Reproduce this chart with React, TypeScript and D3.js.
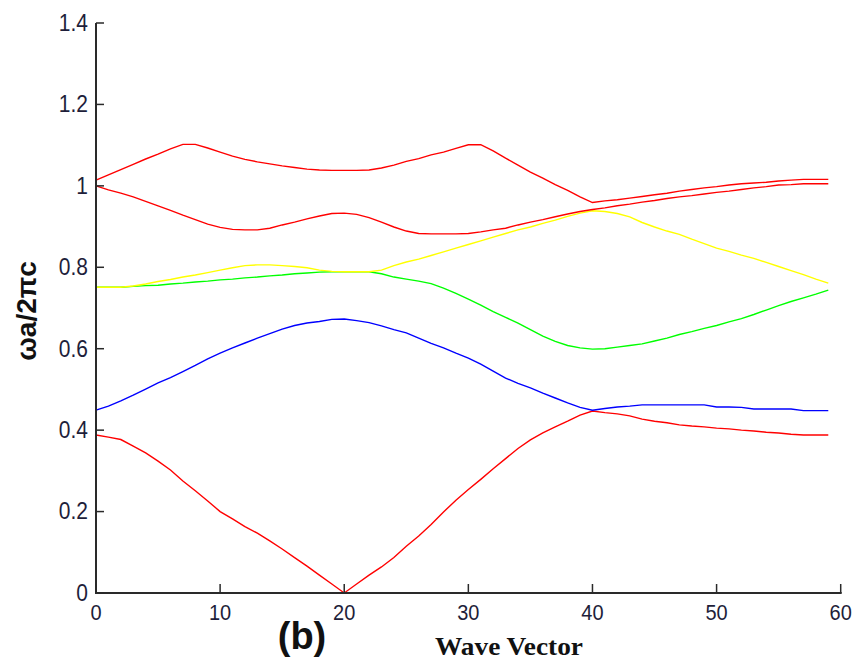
import React from "react";
import * as d3 from "d3";

const waveVector = d3.range(0, 60);

const band1 = [0.388,0.383,0.377,0.361,0.344,0.324,0.302,0.275,0.251,0.226,0.2,0.182,0.163,0.147,0.128,0.108,0.087,0.066,0.044,0.022,0,0.022,0.044,0.064,0.087,0.115,0.14,0.168,0.199,0.228,0.254,0.279,0.305,0.33,0.355,0.376,0.393,0.408,0.422,0.437,0.447,0.443,0.44,0.435,0.427,0.422,0.418,0.413,0.41,0.408,0.405,0.403,0.4,0.398,0.395,0.393,0.39,0.388,0.388,0.388];
const band2 = [0.449,0.459,0.472,0.486,0.501,0.516,0.529,0.544,0.559,0.575,0.589,0.602,0.614,0.626,0.637,0.648,0.657,0.663,0.667,0.672,0.673,0.669,0.664,0.656,0.647,0.639,0.626,0.613,0.602,0.589,0.577,0.562,0.545,0.528,0.515,0.504,0.491,0.479,0.467,0.456,0.449,0.453,0.457,0.459,0.462,0.462,0.462,0.462,0.462,0.462,0.457,0.457,0.456,0.452,0.452,0.452,0.452,0.448,0.448,0.448];
const band3 = [0.751,0.751,0.751,0.753,0.755,0.756,0.759,0.761,0.764,0.766,0.769,0.771,0.774,0.776,0.779,0.781,0.784,0.786,0.788,0.789,0.789,0.789,0.789,0.784,0.776,0.771,0.766,0.76,0.749,0.736,0.722,0.707,0.691,0.677,0.663,0.647,0.631,0.618,0.608,0.602,0.599,0.6,0.604,0.608,0.612,0.619,0.626,0.635,0.642,0.65,0.657,0.666,0.674,0.684,0.695,0.706,0.716,0.725,0.734,0.744];
const band4 = [0.751,0.751,0.751,0.754,0.759,0.765,0.77,0.776,0.781,0.787,0.793,0.799,0.804,0.806,0.806,0.804,0.802,0.799,0.793,0.79,0.789,0.789,0.789,0.793,0.804,0.813,0.82,0.829,0.838,0.847,0.856,0.865,0.874,0.883,0.892,0.899,0.908,0.916,0.925,0.933,0.939,0.937,0.932,0.924,0.91,0.899,0.889,0.881,0.869,0.858,0.847,0.839,0.83,0.822,0.812,0.802,0.792,0.782,0.771,0.761];
const band5 = [1.0,0.99,0.982,0.973,0.962,0.951,0.94,0.928,0.917,0.906,0.898,0.893,0.892,0.892,0.896,0.904,0.911,0.919,0.926,0.932,0.933,0.93,0.922,0.911,0.899,0.889,0.883,0.882,0.882,0.882,0.883,0.887,0.892,0.896,0.904,0.911,0.917,0.924,0.931,0.937,0.942,0.946,0.951,0.955,0.96,0.964,0.969,0.973,0.976,0.98,0.984,0.987,0.991,0.995,0.998,1.002,1.003,1.005,1.005,1.005];
const band6 = [1.014,1.027,1.04,1.053,1.066,1.078,1.091,1.102,1.102,1.093,1.083,1.073,1.065,1.059,1.054,1.049,1.045,1.041,1.039,1.038,1.038,1.038,1.039,1.044,1.051,1.06,1.067,1.076,1.083,1.092,1.101,1.101,1.086,1.068,1.051,1.034,1.019,1.003,0.989,0.973,0.959,0.963,0.966,0.97,0.974,0.978,0.982,0.987,0.991,0.995,0.998,1.002,1.005,1.007,1.009,1.012,1.014,1.016,1.016,1.016];

const seriesList = [
  { name: "band1", values: band1, color: "#ff0000" },
  { name: "band2", values: band2, color: "#0000ff" },
  { name: "band3", values: band3, color: "#00ff00" },
  { name: "band4", values: band4, color: "#ffff00" },
  { name: "band5", values: band5, color: "#ff0000" },
  { name: "band6", values: band6, color: "#ff0000" },
];

const xTicks = [0, 10, 20, 30, 40, 50, 60];
const yTicks = [0, 0.2, 0.4, 0.6, 0.8, 1, 1.2, 1.4];

export default function App() {
  const W = 858, H = 666;
  const x = d3.scaleLinear().domain([0, 60]).range([96, 840.7]);
  const y = d3.scaleLinear().domain([0, 1.4]).range([593, 23]);
  const line = d3
    .line<number>()
    .x((_, i) => x(waveVector[i]))
    .y((d) => y(d));
  const axisColor = "#2a2a2a";
  const labelColor = "#1e1e3a";
  return (
    <svg width={W} height={H} style={{ position: "absolute", left: 0, top: 0, background: "#fff" }}>
      <rect x={0} y={0} width={W} height={H} fill="#fff" />
      {seriesList.map((s) => (
        <path key={s.name} d={line(s.values) || ""} fill="none" stroke={s.color} strokeWidth={1.4} />
      ))}
      {/* axes */}
      <line x1={x(0)} x2={x(0)} y1={y(1.4)} y2={y(0) + 1} stroke={axisColor} strokeWidth={2} />
      <line x1={x(0) - 1} x2={x(60) + 1} y1={y(0)} y2={y(0)} stroke={axisColor} strokeWidth={2} />
      {yTicks.map((t) => (
        <g key={"y" + t}>
          <line x1={x(0)} x2={x(0) + 8} y1={y(t)} y2={y(t)} stroke={axisColor} strokeWidth={1.5} />
          <text
            transform={`translate(${x(0) - 8},${y(t)}) scale(1,1.12)`}
            textAnchor="end"
            dominantBaseline="central"
            fontFamily="'Liberation Sans', Arial, sans-serif"
            fontSize={21}
            fill={labelColor}
          >
            {d3.format("~g")(t)}
          </text>
        </g>
      ))}
      {xTicks.map((t) => (
        <g key={"x" + t}>
          <line x1={x(t)} x2={x(t)} y1={y(0)} y2={y(0) - 9} stroke={axisColor} strokeWidth={1.5} />
          <text
            transform={`translate(${x(t)},${y(0) + 27}) scale(1,1.12)`}
            textAnchor="middle"
            fontFamily="'Liberation Sans', Arial, sans-serif"
            fontSize={20}
            fill={labelColor}
          >
            {t}
          </text>
        </g>
      ))}
      <text
        transform="translate(36,311) rotate(-90)"
        textAnchor="middle"
        fontFamily="'Liberation Sans', Arial, sans-serif"
        fontWeight="bold"
        fontSize={28}
        fill="#111"
      >
        ωa/2πc
      </text>
      <text
        x={302}
        y={649}
        textAnchor="middle"
        fontFamily="'Liberation Sans', Arial, sans-serif"
        fontWeight="bold"
        fontSize={38}
        fill="#111"
      >
        (b)
      </text>
      <text
        x={509}
        y={655}
        textAnchor="middle"
        fontFamily="'Liberation Serif', 'Times New Roman', serif"
        fontWeight="bold"
        fontSize={25}
        textLength={148}
        lengthAdjust="spacingAndGlyphs"
        fill="#111"
      >
        Wave Vector
      </text>
    </svg>
  );
}
